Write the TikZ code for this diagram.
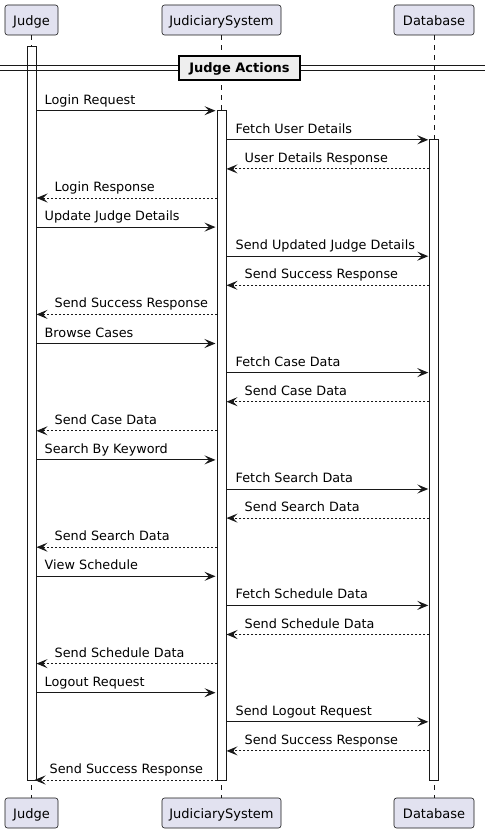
\documentclass[tikz,border=0pt]{standalone}
\usepackage{fontspec}
\setmainfont{DejaVu Sans}
\usetikzlibrary{arrows.meta}
\definecolor{pfill}{HTML}{E2E2F0}
\definecolor{lc}{HTML}{181818}
\definecolor{gfill}{HTML}{EEEEEE}
\begin{document}
\begin{tikzpicture}[x=1pt,y=-1pt,
  part/.style={draw=lc, line width=0.6pt, fill=pfill, rounded corners=2.5pt,
    minimum height=30pt, inner sep=0pt, text height=12pt, text depth=1pt,
    font=\fontsize{13}{15}\selectfont},
  life/.style={draw=lc, line width=0.5pt, dash pattern=on 5pt off 5pt},
  bar/.style={draw=lc, line width=1pt, fill=white, minimum width=9pt, inner sep=0pt},
  msg/.style={draw=lc, line width=1pt, -{Stealth[length=11pt,width=9pt,inset=4.5pt]}},
  ret/.style={msg, dash pattern=on 2pt off 2pt},
  lbl/.style={anchor=base west, inner sep=0pt, font=\fontsize{12.8}{15}\selectfont},
  divbox/.style={draw=black, line width=1.5pt, fill=gfill, minimum width=121pt,
    minimum height=24pt, inner sep=0pt, text height=10pt, text depth=1pt,
    font=\fontsize{13}{15}\selectfont\bfseries}
]
\useasboundingbox (0,0) rectangle (485,832);
\fill[white] (0,0) rectangle (485,832);
% participants
\node[part, minimum width=53pt] (jt) at (31.5,20) {Judge};
\node[part, minimum width=119pt] (st) at (221.5,20) {JudiciarySystem};
\node[part, minimum width=80pt] (dt) at (434,20) {Database};
\node[part, minimum width=53pt] (jbt) at (31.5,813) {Judge};
\node[part, minimum width=119pt] (sbt) at (221.5,813) {JudiciarySystem};
\node[part, minimum width=80pt] (dbt) at (434,813) {Database};
% lifelines
\draw[life] (jt.south) -- (jbt.north);
\draw[life] (st.south) -- (sbt.north);
\draw[life] (dt.south) -- (dbt.north);
% activation bars
\node[bar, minimum height=733pt] (jb) at (31.5,413.5) {};
\node[bar, minimum height=669.3pt] (sb) at (221.5,445.35) {};
\node[bar, minimum height=640.5pt] (db) at (434.3,459.75) {};
% divider
\coordinate (dl) at (0,66);
\coordinate (dr) at (485,66);
\draw[lc, line width=1pt] (dl) -- (dr);
\draw[lc, line width=1pt] ([yshift=-4.6pt]dl) -- ([yshift=-4.6pt]dr);
\node[divbox] (div) at (239.5,68) {Judge Actions};
% messages
\foreach \g/\a/\b/\c/\d in {
  0/Login Request/Fetch User Details/User Details Response/Login Response,
  1/Update Judge Details/Send Updated Judge Details/Send Success Response/Send Success Response,
  2/Browse Cases/Fetch Case Data/Send Case Data/Send Case Data,
  3/Search By Keyword/Fetch Search Data/Send Search Data/Send Search Data,
  4/View Schedule/Fetch Schedule Data/Send Schedule Data/Send Schedule Data,
  5/Logout Request/Send Logout Request/Send Success Response/Send Success Response}{
  \pgfmathsetmacro\ya{110.7+29.1*(4*\g)}
  \pgfmathsetmacro\yb{110.7+29.1*(4*\g+1)}
  \pgfmathsetmacro\yc{110.7+29.1*(4*\g+2)}
  \pgfmathsetmacro\yd{110.7+29.1*(4*\g+3)}
  \coordinate (ma) at (0,\ya);
  \coordinate (mb) at (0,\yb);
  \coordinate (mc) at (0,\yc);
  \coordinate (md) at (0,\yd);
  \draw[msg] (jb.east|-ma) -- ([xshift=-1pt]sb.west|-ma);
  \node[lbl] at ([xshift=8pt,yshift=6.5pt]jb.east|-ma) {\a};
  \draw[msg] (sb.east|-mb) -- ([xshift=-1pt]db.west|-mb);
  \node[lbl] at ([xshift=9pt,yshift=6.5pt]sb.east|-mb) {\b};
  \draw[ret] (db.west|-mc) -- (sb.east|-mc);
  \node[lbl] at ([xshift=18pt,yshift=6.5pt]sb.east|-mc) {\c};
  \ifnum\g=5
    \draw[ret] (sb.west|-md) -- ([xshift=-2pt]jb.east|-md);
    \node[lbl] at ([xshift=13pt,yshift=6.5pt]jb.east|-md) {\d};
  \else
    \draw[ret] (sb.west|-md) -- (jb.east|-md);
    \node[lbl] at ([xshift=18pt,yshift=6.5pt]jb.east|-md) {\d};
  \fi
}
\end{tikzpicture}
\end{document}
